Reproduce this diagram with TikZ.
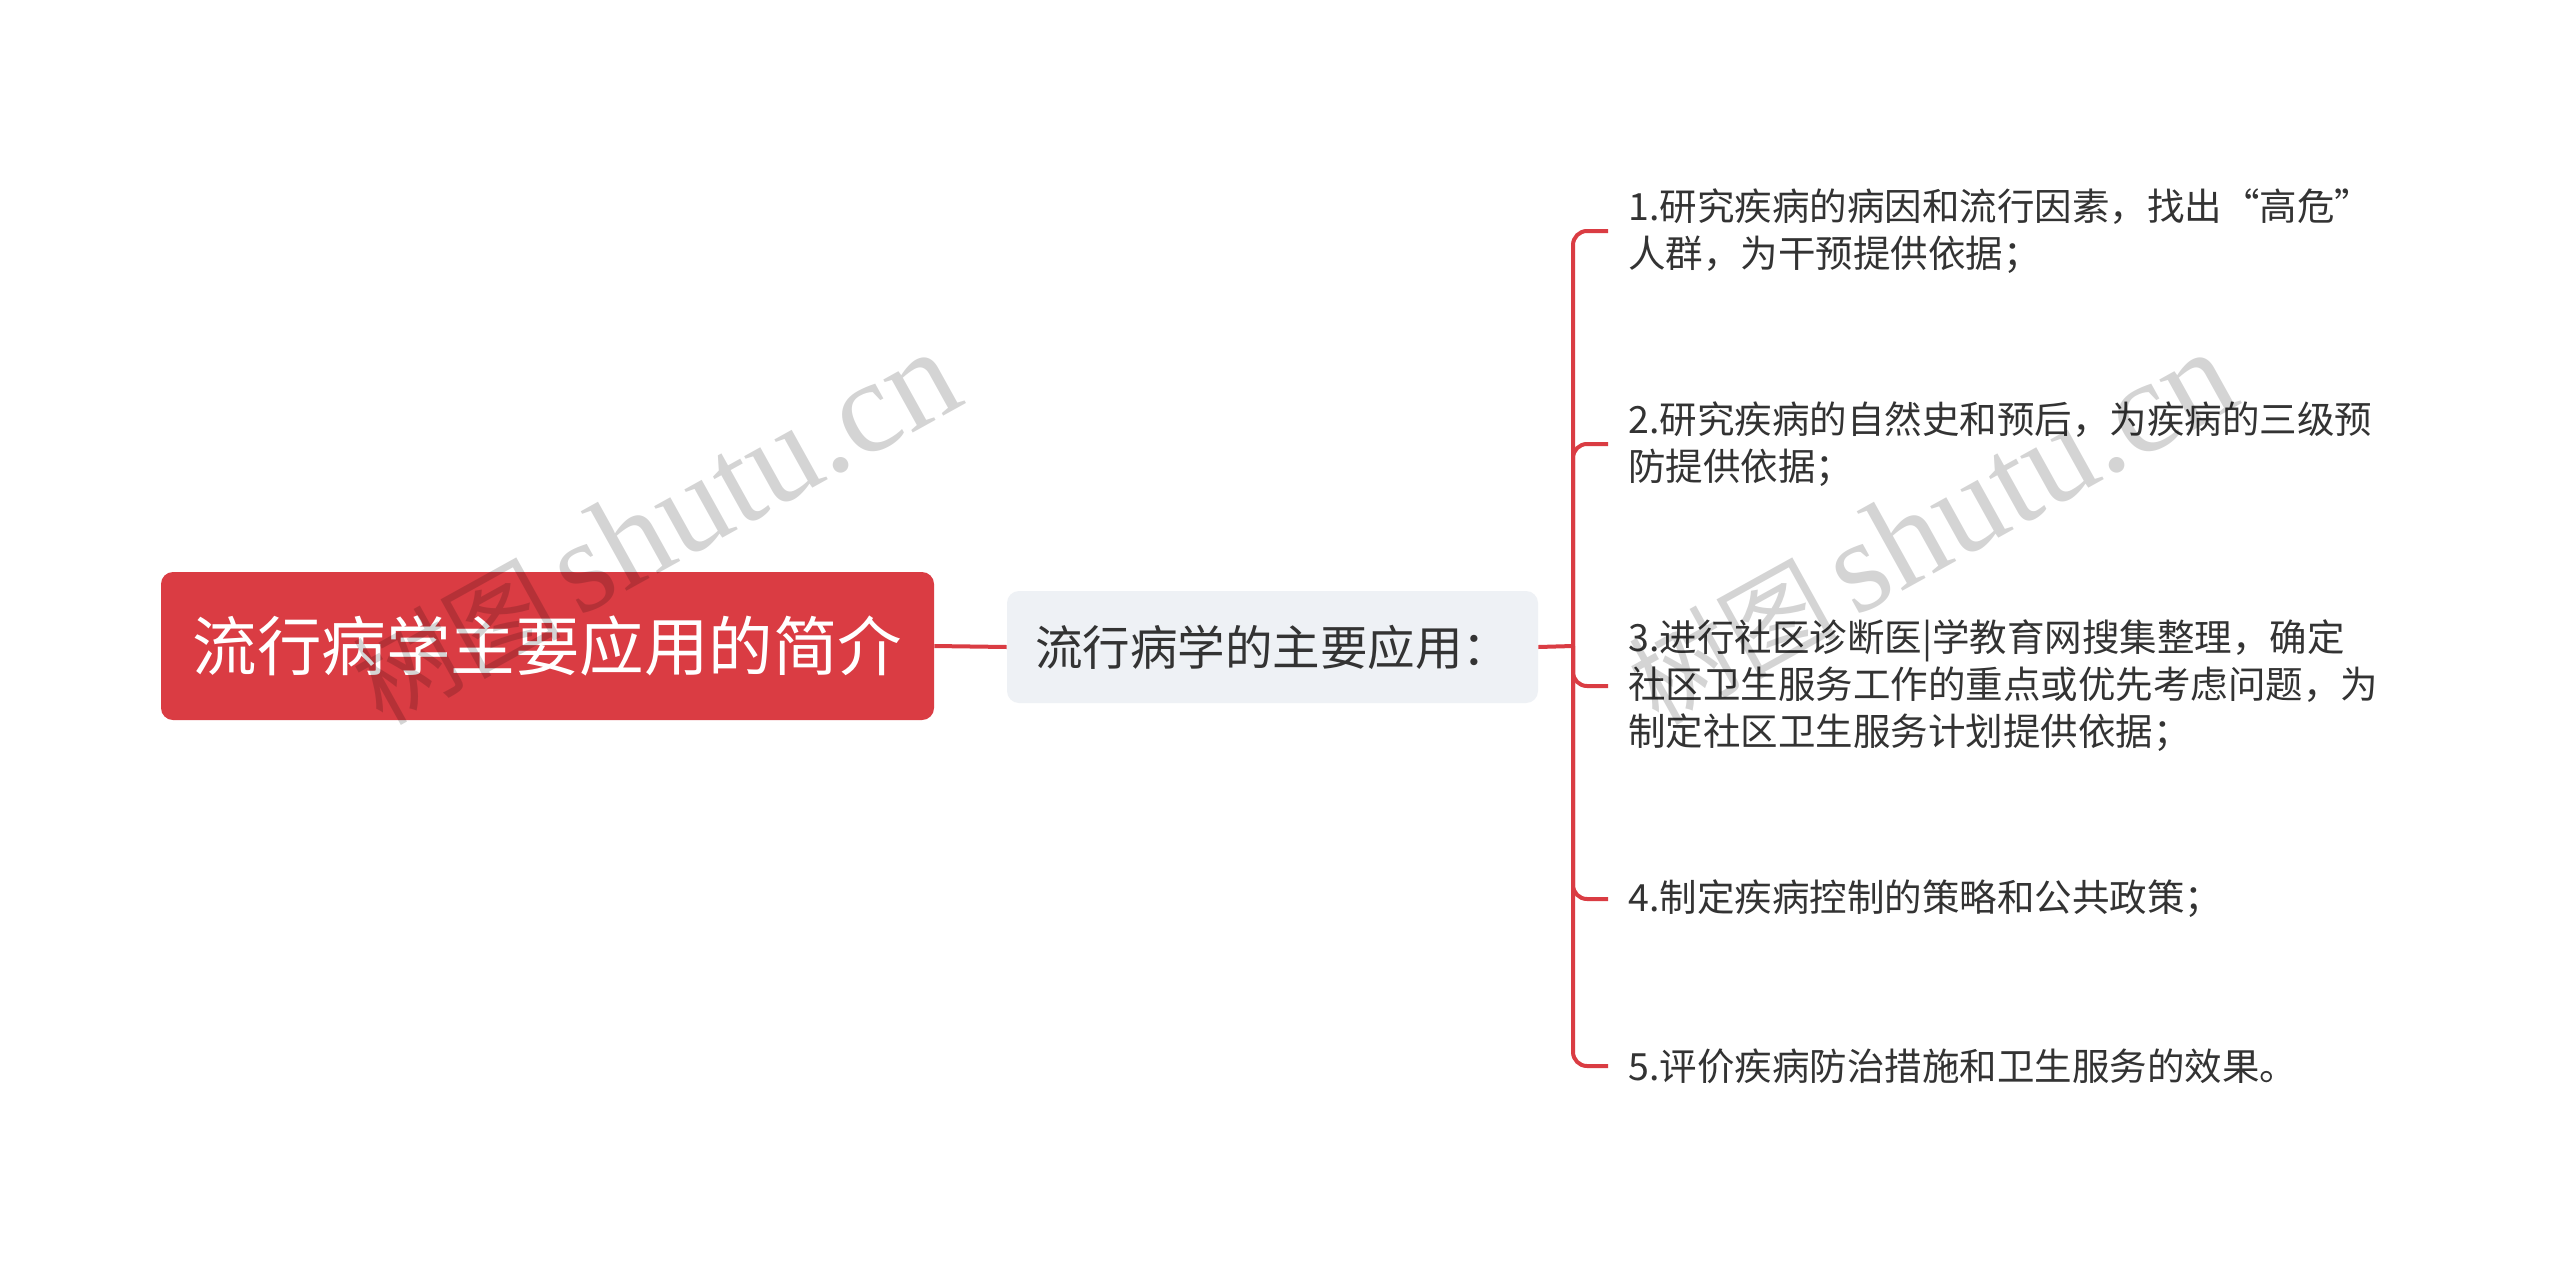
\documentclass[tikz,border=0pt]{standalone}
\usepackage{fontspec}
\setmainfont{Noto Sans CJK SC}
\newfontfamily\wmserif{Liberation Serif}
\definecolor{rootred}{HTML}{DA3C43}
\definecolor{midgray}{HTML}{EEF1F5}
\definecolor{txt}{HTML}{333333}
\begin{document}
\begin{tikzpicture}[x=0.5pt,y=-0.5pt,
  rootbox/.style={fill=rootred, rounded corners=6pt, text=white,
    font=\fontsize{32.25}{40}\selectfont, minimum width=386.5pt, minimum height=74pt, inner sep=0pt},
  midbox/.style={fill=midgray, rounded corners=6pt, text=txt,
    font=\fontsize{23.75}{28}\selectfont, minimum width=265.5pt, minimum height=56pt, inner sep=0pt},
  leafbox/.style={text=txt, font=\fontsize{18.75}{23.5}\selectfont, align=left,
    inner xsep=10pt, inner ysep=2pt},
  link/.style={draw=rootred, line width=2pt},
  wm/.style={text=black, opacity=0.17, rotate=29, inner sep=0pt}
]
\useasboundingbox (0,0) rectangle (2560,1269);
\fill[white] (0,0) rectangle (2560,1269);

\node[rootbox] (root) at (547.5,646) {流行病学主要应用的简介};
\node[midbox] (mid) at (1272.5,647) {流行病学的主要应用：};
\coordinate (j) at (1573,646);

\node[leafbox, anchor=west] (l1) at (1608,231) {1.研究疾病的病因和流行因素，找出“高危”\\人群，为干预提供依据；};
\node[leafbox, anchor=west] (l2) at (1608,444) {2.研究疾病的自然史和预后，为疾病的三级预\\防提供依据；};
\node[leafbox, anchor=west] (l3) at (1608,686) {3.进行社区诊断医|学教育网搜集整理，确定\\社区卫生服务工作的重点或优先考虑问题，为\\制定社区卫生服务计划提供依据；};
\node[leafbox, anchor=west] (l4) at (1608,899) {4.制定疾病控制的策略和公共政策；};
\node[leafbox, anchor=west] (l5) at (1608,1066) {5.评价疾病防治措施和卫生服务的效果。};

\draw[link] (root.east) -- (mid.west);
\draw[link] (mid.east) -- (j);
\foreach \n in {l1,l2,l3,l4,l5}
  \draw[link, rounded corners=7pt] (j) |- (\n.west);

\node[wm] (wm1) at (655,528) {\fontsize{52}{58}\selectfont 树图\,{\wmserif\fontsize{66}{72}\selectfont shutu.cn}};
\node[wm] (wm2) at (1931,528) {\fontsize{52}{58}\selectfont 树图\,{\wmserif\fontsize{66}{72}\selectfont shutu.cn}};
\end{tikzpicture}
\end{document}
